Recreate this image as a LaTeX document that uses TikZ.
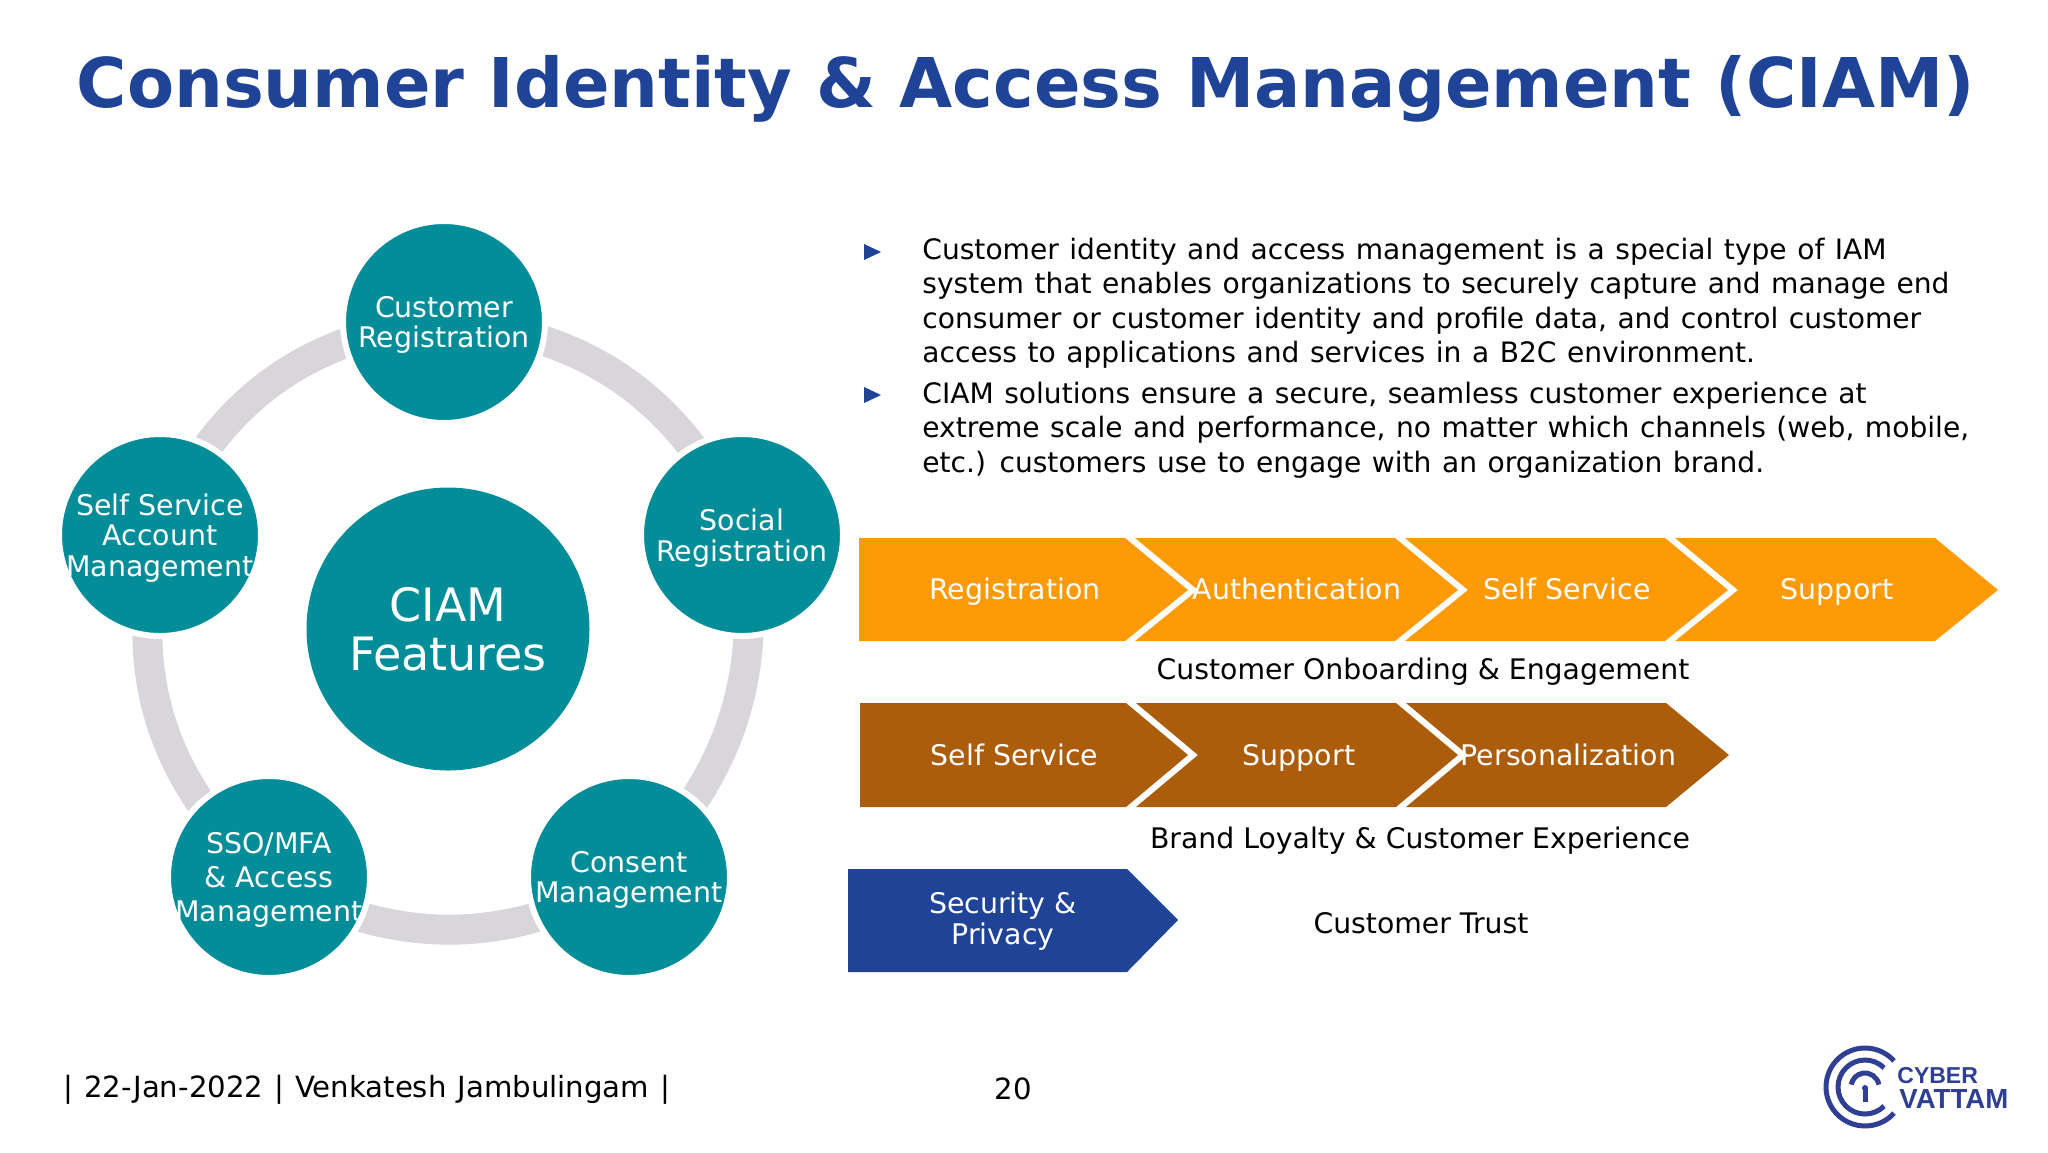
\documentclass[tikz,border=0pt]{standalone}
\usepackage{fontspec}
\setmainfont{DejaVu Sans}
\newfontfamily\bodyfont[WordSpace=1.18]{DejaVu Sans}
\newfontfamily\logofont{Liberation Sans}
\usetikzlibrary{backgrounds}
\definecolor{ciamteal}{HTML}{038D99}
\definecolor{ciamgrey}{HTML}{D8D6DA}
\definecolor{ciamorange}{HTML}{FE9A06}
\definecolor{ciambrown}{HTML}{AB5D0C}
\definecolor{ciamblue}{HTML}{1F4397}
\definecolor{logoblue}{HTML}{2F3F93}
\begin{document}
\begin{tikzpicture}[x=0.5pt,y=-0.5pt]
	\tikzset{
		feature/.style = {shape=circle,fill=ciamteal,draw=white,line width=3pt,minimum size=101pt,inner sep=-14pt,text depth=0pt,text=white,align=center,font=\fontsize{14.2}{15.4}\selectfont},
		hub/.style = {shape=circle,fill=ciamteal,minimum size=141.5pt,inner sep=0pt,text=white,align=center,font=\fontsize{23}{24.3}\selectfont},
		ring/.style = {draw=ciamgrey,line width=15pt},
		chevtext/.style = {text=white,inner sep=0pt,anchor=base,font=\fontsize{14.2}{15.4}\selectfont},
		caption/.style = {text=black,inner sep=0pt,anchor=base,font=\fontsize{14.15}{17}\selectfont},
		para/.style = {anchor=north west,inner sep=0pt,align=left,text=black,font=\bodyfont\fontsize{14.05}{17.1}\selectfont},
		logoarc/.style = {draw=logoblue,line width=2.5pt}
	}
	\useasboundingbox (0,0) rectangle (2048,1152);
	\node[inner sep=0pt,text=ciamblue,font=\fontsize{34.3}{36}\selectfont\bfseries] (title) at (1026,88.5) {Consumer Identity \& Access Management (CIAM)};
	%circles
	\node[hub] (hub) at (448,629) {CIAM\\Features};
	\node[feature] (custreg) at (444,322) {Customer\\Registration};
	\node[feature] (socreg) at (742,535) {Social\\Registration};
	\node[feature] (consent) at (629,877) {Consent\\Management};
	\node[feature,font=\fontsize{14.2}{17}\selectfont] (ssomfa) at (269,877) {SSO/MFA\\\& Access\\Management};
	\node[feature] (selfserv) at (160,535) {Self Service\\Account\\Management};
	%ring
	\begin{scope}[on background layer]
		\draw[ring] (custreg.center) to[bend left=32] (socreg.center);
		\draw[ring] (socreg.center) to[bend left=28] (consent.center);
		\draw[ring] (consent.center) to[bend left=30] (ssomfa.center);
		\draw[ring] (ssomfa.center) to[bend left=32] (selfserv.center);
		\draw[ring] (selfserv.center) to[bend left=32] (custreg.center);
	\end{scope}
	%text
	\fill[ciamblue] (864,244) -- (881,252) -- (864,260) -- cycle;
	\fill[ciamblue] (864,387) -- (881,395) -- (864,403) -- cycle;
	\node[para] (para1) at (922,238) {Customer identity and access management is a special type of IAM\\system that enables organizations to securely capture and manage end\\consumer or customer identity and profile data, and control customer\\access to applications and services in a B2C environment.};
	\node[para] (para2) at (922,382) {CIAM solutions ensure a secure, seamless customer experience at\\extreme scale and performance, no matter which channels (web, mobile,\\etc.) customers use to engage with an organization brand.};
	%row 1
	\fill[ciamorange] (859,538) -- (1125,538) -- (1188,590) -- (1125,641) -- (859,641) -- cycle;
	\fill[ciamorange] (1135,538) -- (1395,538) -- (1458,590) -- (1395,641) -- (1135,641) -- (1198,590) -- cycle;
	\fill[ciamorange] (1405,538) -- (1665,538) -- (1728,590) -- (1665,641) -- (1405,641) -- (1468,590) -- cycle;
	\fill[ciamorange] (1675,538) -- (1935,538) -- (1998,590) -- (1935,641) -- (1675,641) -- (1738,590) -- cycle;
	\node[chevtext] (regist) at (1015,599.5) {Registration};
	\node[chevtext] (authent) at (1297,599.5) {Authentication};
	\node[chevtext] (selfone) at (1567,599.5) {Self Service};
	\node[chevtext] (suppone) at (1837,599.5) {Support};
	\node[caption] (onboard) at (1423,679) {Customer Onboarding \& Engagement};
	%row 2
	\fill[ciambrown] (860,703) -- (1126,703) -- (1188,755) -- (1126,807) -- (860,807) -- cycle;
	\fill[ciambrown] (1136,703) -- (1396,703) -- (1458,755) -- (1396,807) -- (1136,807) -- (1198,755) -- cycle;
	\fill[ciambrown] (1406,703) -- (1666,703) -- (1729,755) -- (1666,807) -- (1406,807) -- (1468,755) -- cycle;
	\node[chevtext] (selftwo) at (1014.5,765) {Self Service};
	\node[chevtext] (supptwo) at (1299,765) {Support};
	\node[chevtext] (personal) at (1568.5,765) {Personalization};
	\node[caption] (loyalty) at (1420,848) {Brand Loyalty \& Customer Experience};
	%row 3
	\fill[ciamblue] (848,869) -- (1127,869) -- (1178,920) -- (1127,972) -- (848,972) -- cycle;
	\node[text=white,inner sep=0pt,align=center,font=\fontsize{14.2}{15.4}\selectfont] (secpriv) at (1003,921) {Security \&\\Privacy};
	\node[caption] (trust) at (1421,933) {Customer Trust};
	%footer
	\node[anchor=west,inner sep=0pt,font=\bodyfont\fontsize{14.6}{17}\selectfont] (footer) at (63,1090) {| 22-Jan-2022 | Venkatesh Jambulingam |};
	\node[inner sep=0pt,font=\fontsize{14.6}{17}\selectfont] (pagenum) at (1013.5,1089) {20};
	%logo
	\draw[logoarc] (1865,1087) ++(-42:39) arc (-42:-318:39);
	\draw[logoarc] (1865,1087) ++(-45:27) arc (-45:-315:27);
	\draw[logoarc] (1865,1087) ++(-10:14) arc (-10:-170:14) ;
	\fill[logoblue] (1865,1088) circle (3);
	\draw[logoarc] (1865,1088) -- (1865,1102);
	\node[anchor=west,inner sep=0pt,text=logoblue,font=\logofont\bfseries\fontsize{11.5}{12}\selectfont] (cyber) at (1897,1076) {CYBER};
	\node[anchor=west,inner sep=0pt,text=logoblue,font=\logofont\bfseries\fontsize{13.8}{14}\selectfont] (vattam) at (1899,1099) {VATTAM};
\end{tikzpicture}
\end{document}
